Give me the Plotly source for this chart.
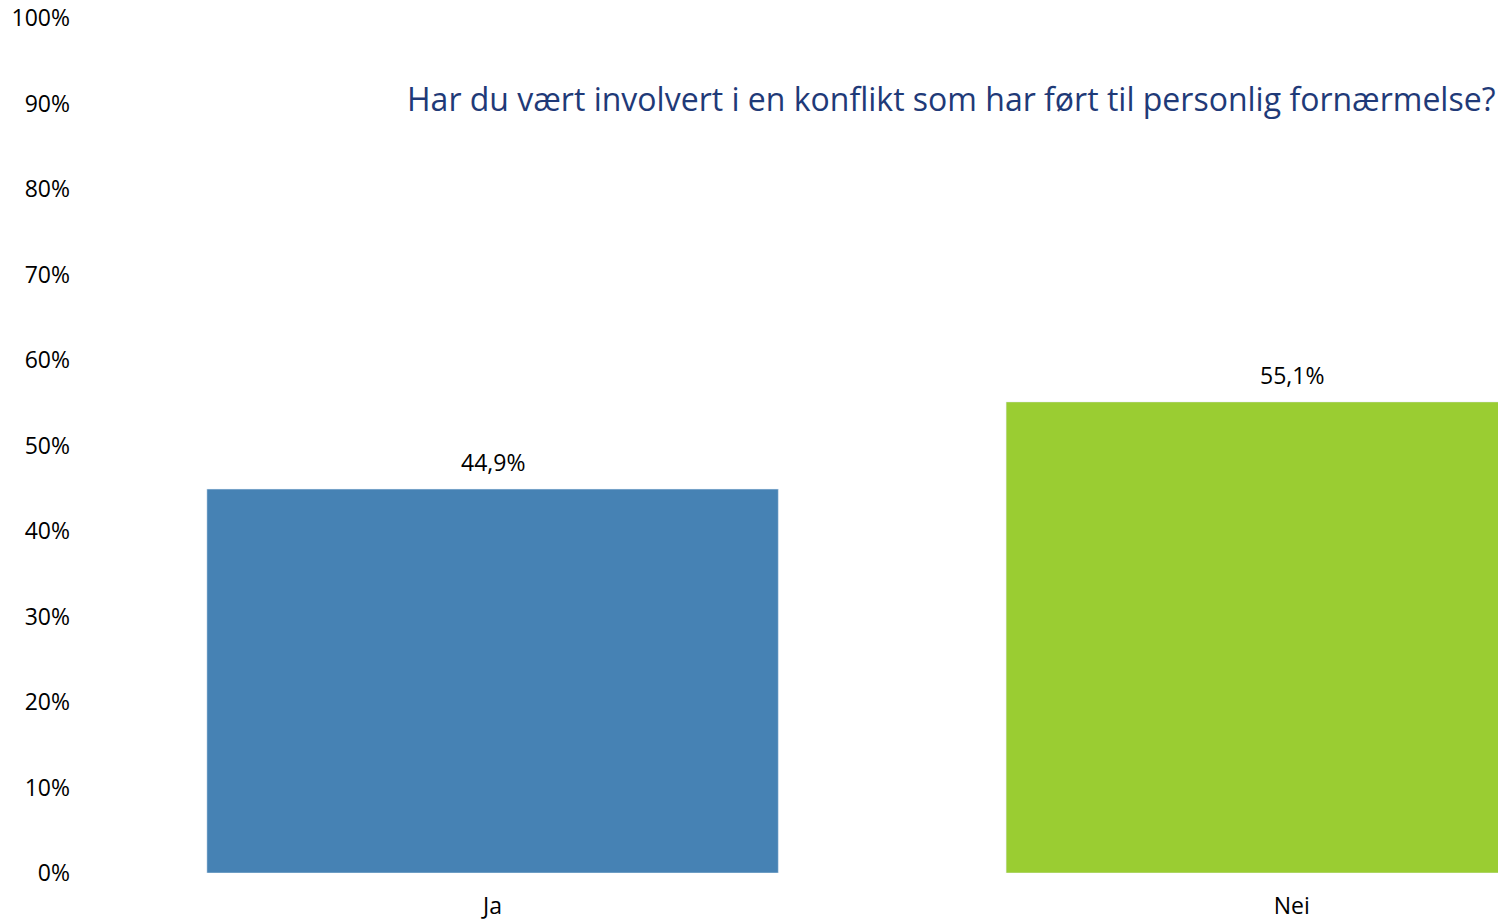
import plotly.graph_objects as go

categories = ["Ja", "Nei"]
values = [44.9, 55.1]
labels = ["44,9%", "55,1%"]
colors = ["#4682B4", "#9ACD32"]
yticks = list(range(0, 101, 10))
yticklabels = [f"{v}%" for v in yticks]
title = "Har du vært involvert i en konflikt som har ført til personlig fornærmelse?"

fig = go.Figure()
fig.add_trace(go.Bar(
    x=categories, y=values, marker_color=colors, width=0.715,
    cliponaxis=False, hoverinfo="x+y",
))
for c, v, t in zip(categories, values, labels):
    fig.add_annotation(x=c, y=v, text=t, showarrow=False, yshift=27,
                       xanchor="center", yanchor="middle",
                       font=dict(size=23, color="#000000", family="Open Sans"))
fig.add_annotation(
    text=title, xref="paper", yref="paper", x=1.0, y=0.906, xshift=-9,
    xanchor="right", yanchor="middle", showarrow=False,
    font=dict(size=32, color="#1F3A78", family="Open Sans"),
)
fig.update_layout(
    width=1498, height=913,
    margin=dict(l=85, r=0, t=10, b=48, autoexpand=False),
    plot_bgcolor="white", paper_bgcolor="white",
    showlegend=False,
    font=dict(family="Open Sans", size=23, color="#000000"),
)
fig.update_xaxes(range=[-0.5, 1.268], showline=False, showgrid=False,
                 tickfont=dict(size=23), ticks="", ticklabelstandoff=17,
                 automargin=False)
fig.update_yaxes(range=[0, 100], tickvals=yticks, ticktext=yticklabels,
                 showgrid=False, zeroline=False, showline=False,
                 ticks="", ticklabelstandoff=22, tickfont=dict(size=23),
                 ticklabeloverflow="allow", automargin=False)
fig.write_html("out.html")
